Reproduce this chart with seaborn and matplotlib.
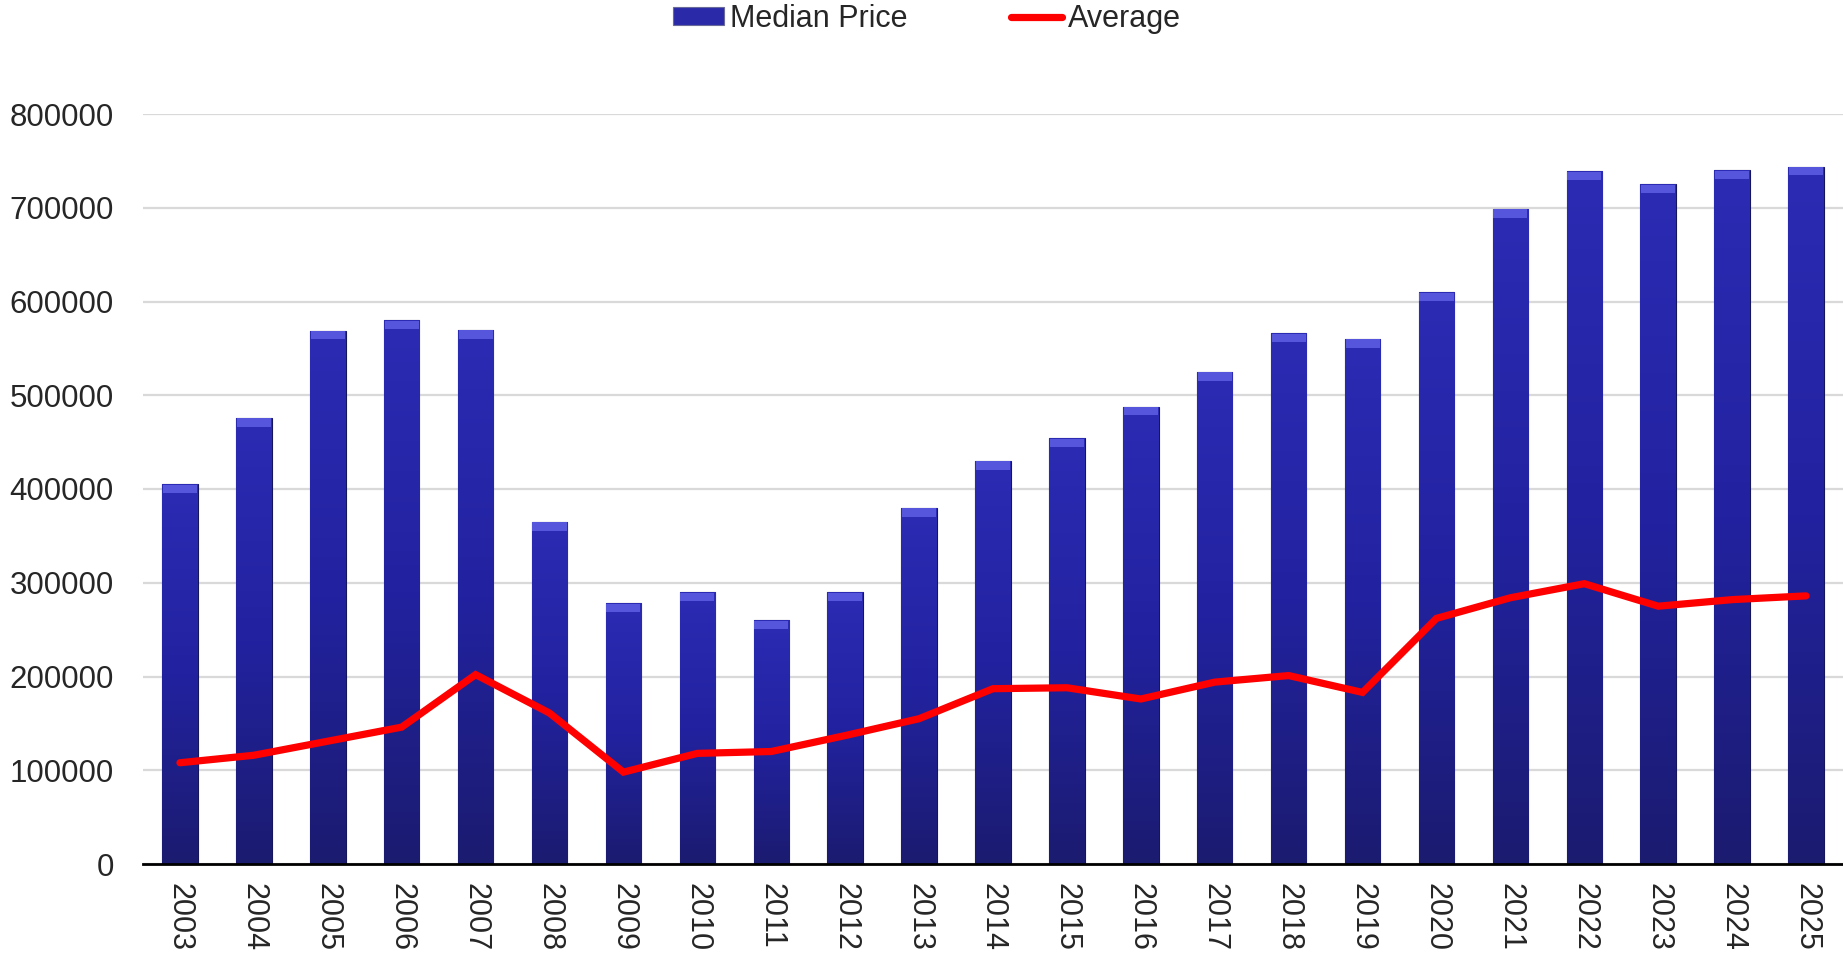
import numpy as np
import pandas as pd
import seaborn as sns
import matplotlib.pyplot as plt
from matplotlib.patches import Patch
from matplotlib.lines import Line2D
from matplotlib.colors import LinearSegmentedColormap

# Chart data
years = [str(y) for y in range(2003, 2026)]
median_price = [405000, 476000, 569000, 580000, 570000, 365000, 278000, 290000,
                260000, 290000, 380000, 430000, 454000, 488000, 525000, 566000,
                560000, 610000, 699000, 739000, 725000, 740000, 744000]
average = [108000, 116000, 131000, 146000, 202000, 161000, 98000, 118000,
           120000, 137000, 155000, 187000, 188000, 176000, 194000, 201000,
           183000, 262000, 284000, 299000, 275000, 282000, 286000]
y_ticks = list(range(0, 800001, 100000))

df = pd.DataFrame({"year": years, "median": median_price, "average": average})

sns.set_style("white")
plt.rcParams["font.family"] = ["Liberation Sans", "DejaVu Sans"]

fig = plt.figure(figsize=(18.43, 9.57), dpi=100)
ax = fig.add_axes([143 / 1843, 93 / 957, 1700 / 1843, 750 / 957])

bar_color = "#2626A8"
sns.barplot(data=df, x="year", y="median", color=bar_color, width=0.48,
            saturation=1, edgecolor="#15155a", linewidth=0.8, ax=ax, zorder=2)

# vertical gradient inside each bar for the glossy look
grad = LinearSegmentedColormap.from_list("bar", ["#1b1b70", "#2222a0", "#2b2bb4"])
gradient = np.linspace(0, 1, 256).reshape(-1, 1)
bars = list(ax.patches)
for p in bars:
    x0, y0 = p.get_x(), p.get_y()
    w, h = p.get_width(), p.get_height()
    im = ax.imshow(gradient, cmap=grad, aspect="auto", origin="lower",
                   extent=[x0, x0 + w, y0, y0 + h], zorder=2.1)
    im.set_clip_path(p)
    # lighter bevel on top of the bar
    ax.bar(x0 + w / 2, 9000, width=w * 0.96, bottom=y0 + h - 9500,
           color="#5656dc", linewidth=0, zorder=2.2)

sns.lineplot(data=df, x="year", y="average", sort=False, color="#ff0000",
             linewidth=5.2, ax=ax, zorder=3, solid_capstyle="round",
             solid_joinstyle="miter")

ax.set_xlim(-0.5, len(years) - 0.5)
ax.set_ylim(0, 800000)
ax.set_yticks(y_ticks)
ax.set_yticklabels([str(v) for v in y_ticks])
ax.yaxis.grid(True, color="#d9d9d9", linewidth=1.6, zorder=0)
ax.set_axisbelow(True)
ax.set_xlabel("")
ax.set_ylabel("")

for side in ["left", "right", "top"]:
    ax.spines[side].set_visible(False)
ax.spines["bottom"].set_color("black")
ax.spines["bottom"].set_linewidth(2.0)
ax.spines["bottom"].set_zorder(4)

ax.tick_params(axis="y", length=0, pad=21, labelsize=22.5)
ax.tick_params(axis="x", length=0, pad=14, labelsize=22, labelrotation=-90)

handles = [Patch(facecolor="#2a2aa8", edgecolor="#6a6a9a", linewidth=0.8),
           Line2D([0], [0], color="#ff0000", linewidth=5.2, solid_capstyle="round")]
fig.legend(handles, ["Median Price", "Average"], loc="center",
           bbox_to_anchor=(0.503, 1 - 19 / 957), ncol=2, frameon=False,
           fontsize=22, handlelength=1.65, handletextpad=0.2,
           columnspacing=3.4, handleheight=0.5)

fig.savefig("out.png", dpi=100)
